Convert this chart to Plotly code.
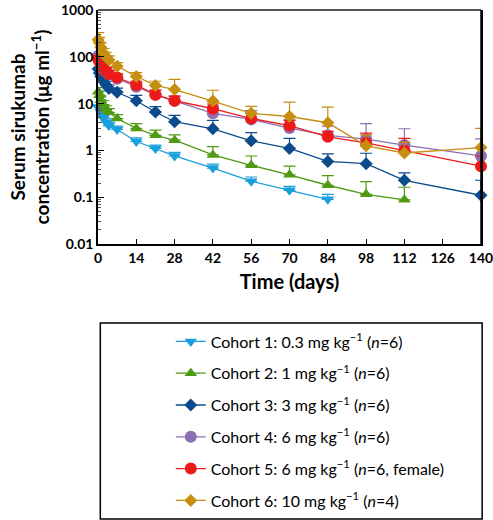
import plotly.graph_objects as go

days = [0.04, 0.5, 1, 2, 3, 4, 7, 14, 21, 28, 42, 56, 70, 84, 98, 112, 140]

names = [
    "Cohort 1: 0.3 mg kg<sup>\u22121</sup> (<i>n</i>=6)",
    "Cohort 2: 1 mg kg<sup>\u22121</sup> (<i>n</i>=6)",
    "Cohort 3: 3 mg kg<sup>\u22121</sup> (<i>n</i>=6)",
    "Cohort 4: 6 mg kg<sup>\u22121</sup> (<i>n</i>=6)",
    "Cohort 5: 6 mg kg<sup>\u22121</sup> (<i>n</i>=6, female)",
    "Cohort 6: 10 mg kg<sup>\u22121</sup> (<i>n</i>=4)",
]

c1 = [8.5, 8.0, 6.5, 5.0, 4.0, 3.4, 2.8, 1.55, 1.1, 0.76, 0.42, 0.22, 0.14, 0.09]
c1_sd = [1.5, 1.4, 1.1, 0.9, 0.7, 0.6, 0.5, 0.3, 0.2, 0.15, 0.09, 0.05, 0.03, 0.025]
c2 = [18, 15, 12, 9.5, 7.5, 6.5, 4.8, 2.95, 2.1, 1.65, 0.8, 0.48, 0.3, 0.18, 0.115, 0.088]
c2_sd = [4, 3.5, 2.5, 2, 1.5, 1.3, 1.0, 0.8, 0.6, 0.5, 0.4, 0.28, 0.16, 0.11, 0.1, 0.075]
c3 = [55, 45, 38, 30, 25, 21, 17.5, 11.5, 6.6, 4.1, 2.9, 1.6, 1.1, 0.58, 0.52, 0.23, 0.11]
c3_sd = [10, 8, 7, 6, 5, 4, 4, 3.5, 2, 1.5, 1.5, 0.8, 0.7, 0.26, 0.35, 0.1, 0.12]
c4 = [105, 85, 70, 55, 48, 42, 34, 23, 15.5, 11.5, 6.2, 4.6, 3.0, 2.1, 1.75, 1.3, 0.76]
c4_sd = [25, 20, 15, 12, 10, 9, 7, 5, 4, 3, 2.5, 2.5, 1.5, 1.2, 2.0, 1.6, 1.0]
c5 = [90, 80, 70, 58, 50, 43, 36, 25, 15.5, 11.5, 7.8, 4.8, 3.4, 1.95, 1.45, 1.0, 0.46]
c5_sd = [18, 15, 12, 10, 9, 8, 7, 5, 4, 3, 2, 1.3, 1.0, 0.6, 0.9, 0.8, 0.3]
c6 = [230, 200, 160, 120, 100, 85, 63, 38, 24.5, 20, 11.3, 6.2, 5.3, 3.9, 1.25, 0.88, 1.15]
c6_sd = [100, 60, 40, 30, 25, 20, 12, 8, 5.5, 13, 8, 2.5, 5.5, 4.5, 0.9, 0.6, 1.8]

series = [c1, c2, c3, c4, c5, c6]
sds = [c1_sd, c2_sd, c3_sd, c4_sd, c5_sd, c6_sd]
colors = ["#1a9fdc", "#4f9a10", "#0b4b8c", "#8e6fb3", "#ee1a1a", "#c68f12"]
symbols = ["triangle-down", "triangle-up", "diamond", "circle", "circle", "diamond"]
sizes = [11, 11, 10, 12, 12, 10]

fig = go.Figure()
for i, (vals, sd) in enumerate(zip(series, sds)):
    fig.add_trace(go.Scatter(
        x=days[:len(vals)], y=vals, name=names[i],
        mode="lines+markers",
        line=dict(color=colors[i], width=1.3),
        marker=dict(symbol=symbols[i], size=sizes[i], color=colors[i]),
        error_y=dict(type="data", array=sd, symmetric=False,
                     arrayminus=[0] * len(sd), color=colors[i],
                     thickness=1.2, width=6),
        cliponaxis=False,
        legendgroup="g%d" % i,
    ))

font = "Lato, 'Open Sans', sans-serif"
fig.update_layout(
    width=493, height=520,
    margin=dict(l=98, r=12, t=10, b=276, autoexpand=False),
    paper_bgcolor="white", plot_bgcolor="white",
    font=dict(family=font, color="black"),
    showlegend=True,
    legend=dict(x=0.19, y=-0.344, xanchor="left", yanchor="top",
                font=dict(size=16, family=font, color="black"),
                bgcolor="rgba(0,0,0,0)", borderwidth=0,
                tracegroupgap=8, traceorder="grouped", itemwidth=30),
    xaxis=dict(range=[0, 140], tickvals=list(range(0, 141, 14)),
               ticks="inside", ticklen=5, tickcolor="black",
               ticklabeloverflow="allow",
               showline=True, linecolor="black", linewidth=1.5,
               showgrid=False, zeroline=False,
               tickfont=dict(size=14, family=font, color="black", weight="bold"),
               title=dict(text="<b>Time (days)</b>", font=dict(size=20, family=font),
                          standoff=10)),
    yaxis=dict(type="log", range=[-2, 3],
               tickvals=[0.01, 0.1, 1, 10, 100, 1000],
               ticktext=["0.01", "0.1", "1", "10", "100", "1000"],
               ticks="inside", ticklen=6, tickcolor="black",
               ticklabeloverflow="allow",
               minor=dict(ticks="inside", ticklen=3, tickcolor="#555", dtick="D1", showgrid=False),
               showline=True, linecolor="black", linewidth=1.5, mirror=True,
               showgrid=False, zeroline=False,
               tickfont=dict(size=14, family=font, color="black", weight="bold"),
               title=dict(text="<b>Serum sirukumab<br>concentration (\u03bcg ml<sup>\u22121</sup>)</b>",
                          font=dict(size=19, family=font), standoff=6)),
    shapes=[
        dict(type="line", xref="paper", yref="paper", x0=0, x1=1, y0=1, y1=1,
             line=dict(color="#555555", width=2)),
        dict(type="line", xref="paper", yref="paper", x0=1, x1=1, y0=0, y1=1,
             line=dict(color="black", width=1.5)),
        dict(type="rect", xref="paper", yref="paper", x0=0.006, x1=1.003,
             y0=-1.175, y1=-0.338, line=dict(color="black", width=1.5)),
    ],
)

fig.write_html("out.html", config={"displayModeBar": False},
               post_script="document.body.style.margin='0px';document.body.style.overflow='hidden';")
